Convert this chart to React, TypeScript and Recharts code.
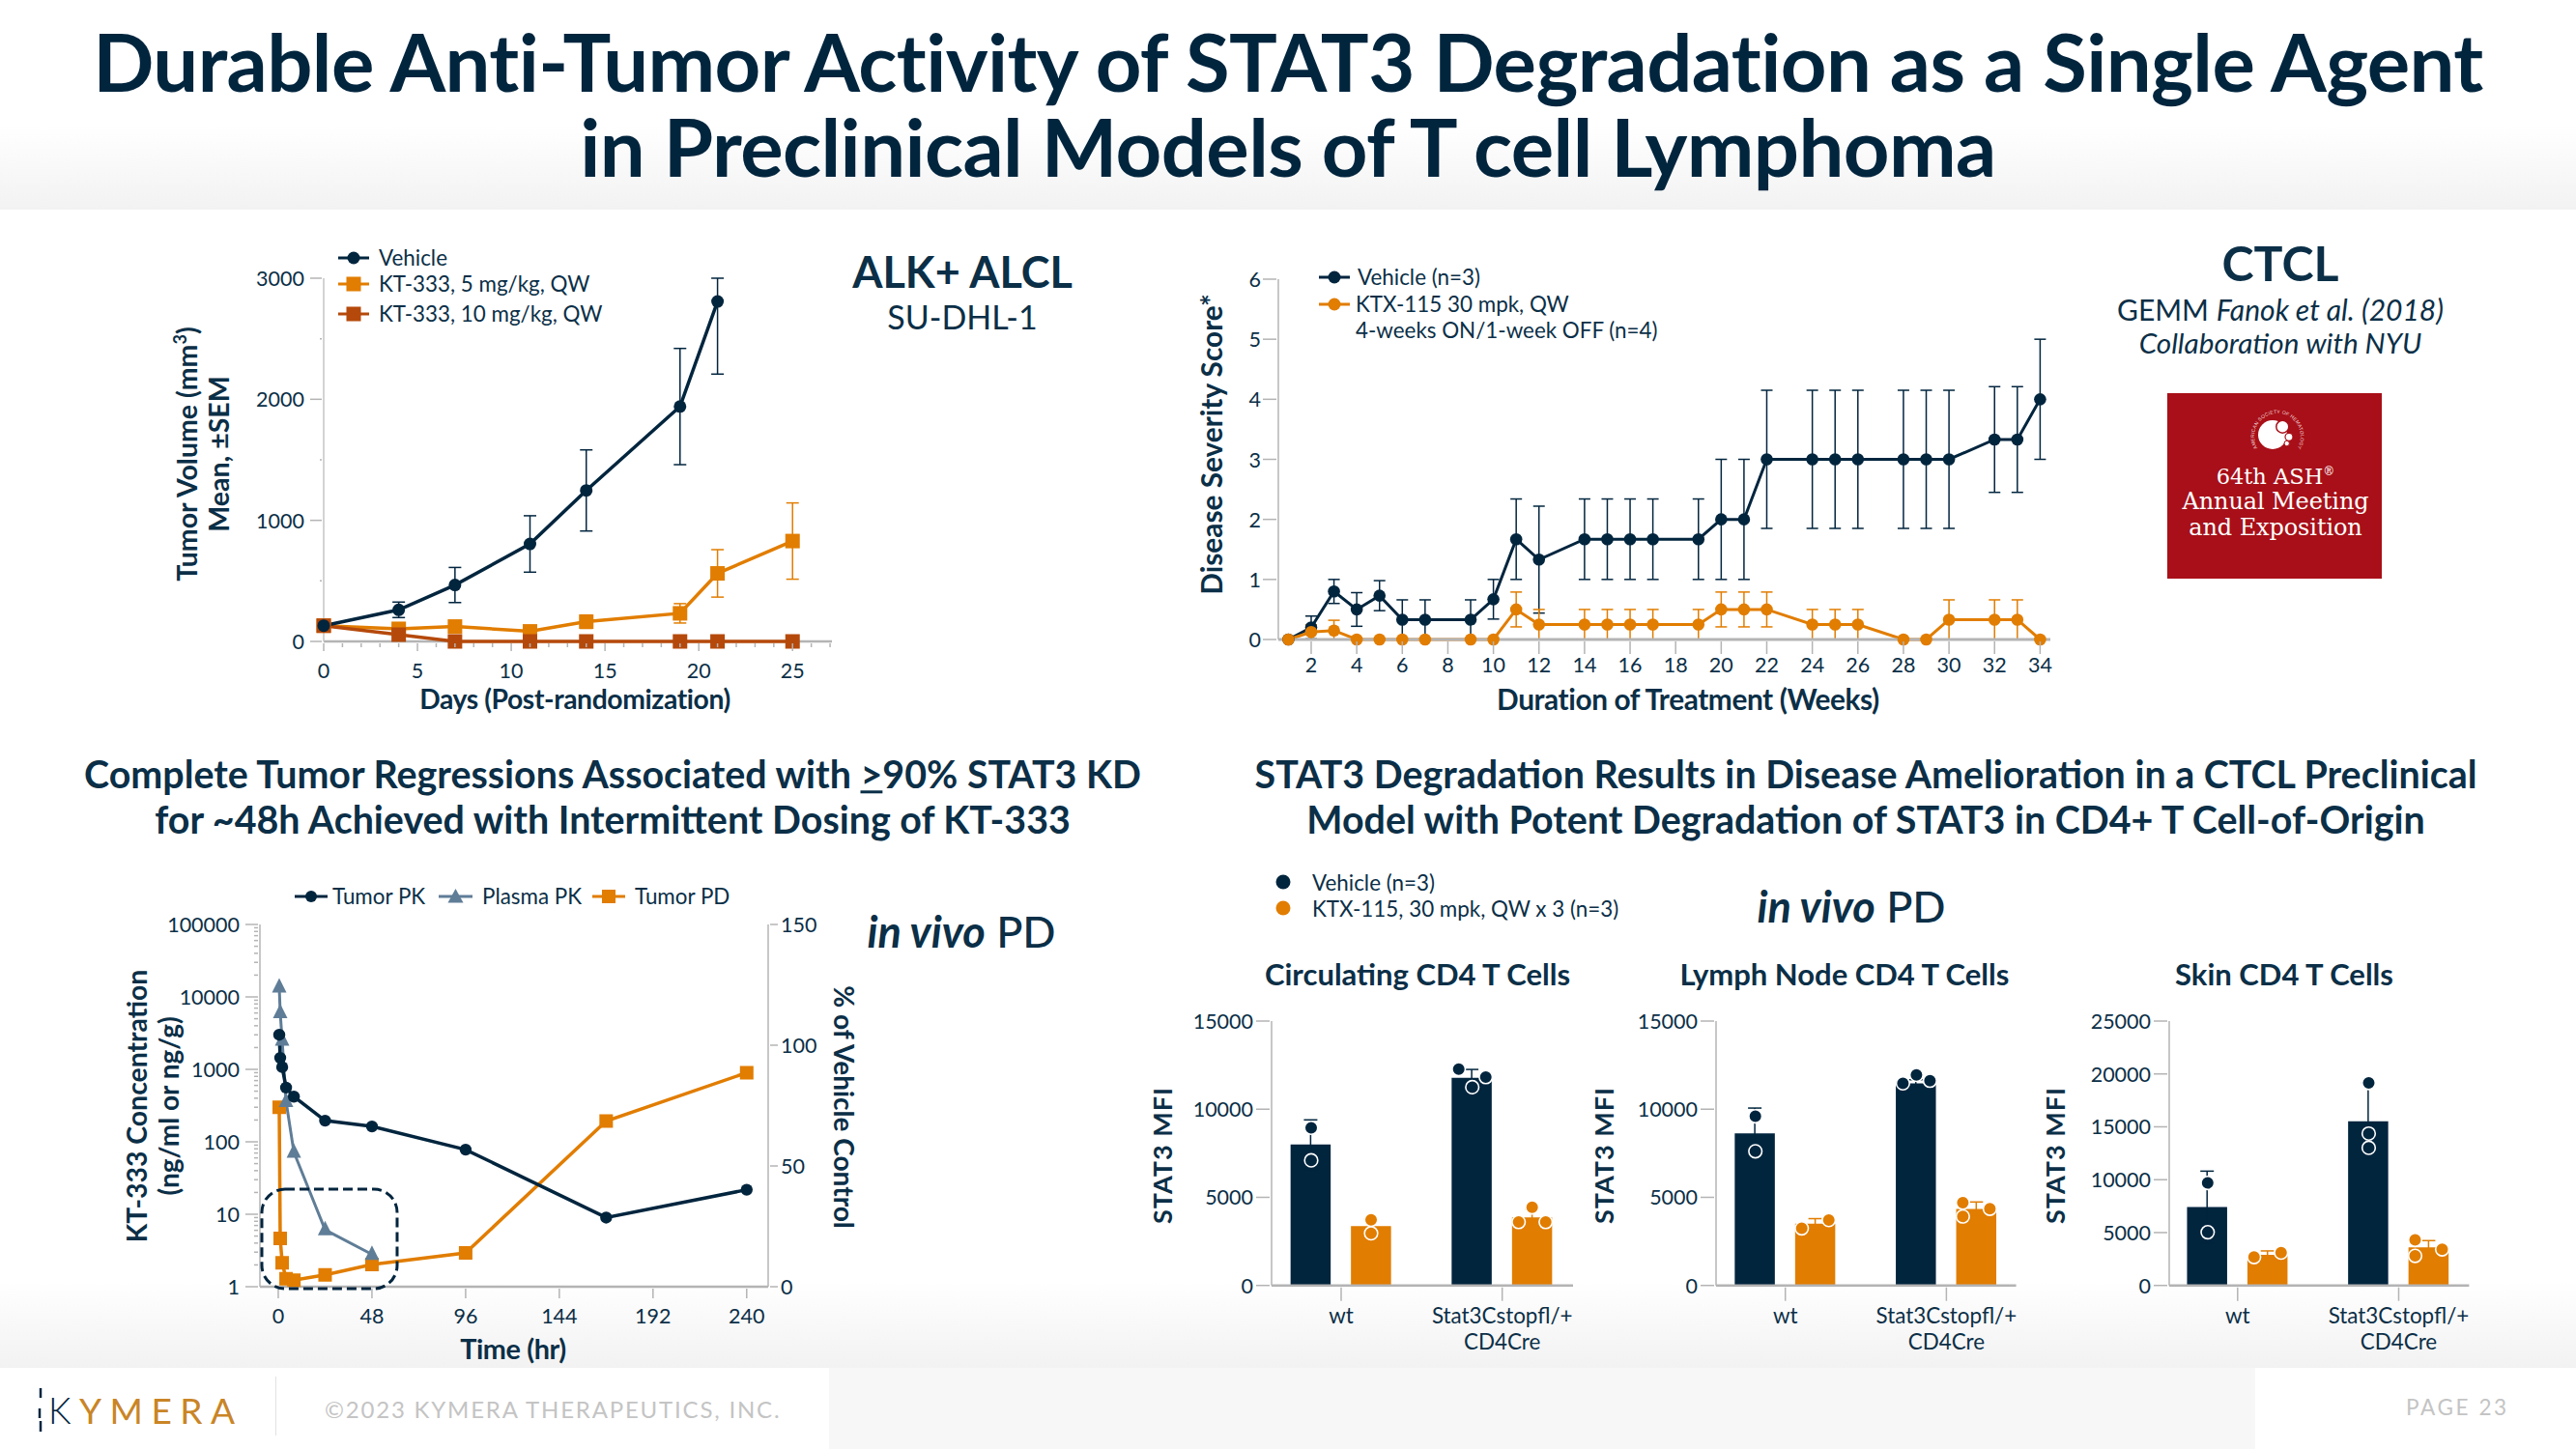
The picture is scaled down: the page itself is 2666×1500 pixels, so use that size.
import React from 'react';
import {
  LineChart,
  Line,
  BarChart,
  Bar,
  ScatterChart,
  Scatter,
  XAxis,
  YAxis,
  ErrorBar,
} from 'recharts';

const NAVY = '#02253e';
const ORANGE = '#e17d00';
const RUST = '#b5490b';
const SLATE = '#5f7d97';
const AXIS = '#b4b4b4';
const TEXT = '#0b2f47';
const FONT = 'Lato, sans-serif';

// ALK+ ALCL tumor volume
const alclDays = [0, 4, 7, 11, 14, 19, 21, 25];
const alclVehicle = [130, 261, 466, 805, 1247, 1940, 2808, null];
const alclVehicleErr = [[0, 0], [64, 64], [145, 145], [233, 233], [335, 335], [480, 480], [600, 192], null];
const alclLow = [130, 104, 123, 83, 163, 232, 562, 829];
const alclLowErr = [[0, 0], [25, 25], [20, 20], [20, 20], [55, 55], [80, 80], [196, 196], [315, 315]];
const alclHigh = [130, 56, 0, 0, 0, 0, 0, 0];
const alclXTicks = [0, 5, 10, 15, 20, 25];
const alclXMinor = [1, 2, 3, 4, 6, 7, 8, 9, 11, 12, 13, 14, 16, 17, 18, 19, 21, 22, 23, 24, 26, 27];
const alclYTicks = [0, 1000, 2000, 3000];
const alclYMinor = [500, 1500, 2500];

// CTCL disease severity score
const ctclWeeks = [1, 2, 3, 4, 5, 6, 7, 9, 10, 11, 12, 14, 15, 16, 17, 19, 20, 21, 22, 24, 25, 26, 28, 29, 30, 32, 33, 34];
const ctclVehicle = [0, 0.2, 0.8, 0.5, 0.73, 0.33, 0.33, 0.33, 0.67, 1.67, 1.33, 1.67, 1.67, 1.67, 1.67, 1.67, 2, 2, 3, 3, 3, 3, 3, 3, 3, 3.33, 3.33, 4];
const ctclVehicleErr = [0, 0.19, 0.2, 0.28, 0.25, 0.33, 0.33, 0.33, 0.33, 0.67, 0.89, 0.67, 0.67, 0.67, 0.67, 0.67, 1, 1, 1.15, 1.15, 1.15, 1.15, 1.15, 1.15, 1.15, 0.88, 0.88, 1];
const ctclKtx = [0, 0.125, 0.15, 0, 0, 0, 0, 0, 0, 0.5, 0.25, 0.25, 0.25, 0.25, 0.25, 0.25, 0.5, 0.5, 0.5, 0.25, 0.25, 0.25, 0, 0, 0.33, 0.33, 0.33, 0];
const ctclKtxErr = [0, 0.12, 0.17, 0, 0, 0, 0, 0, 0, 0.29, 0.25, 0.25, 0.25, 0.25, 0.25, 0.25, 0.29, 0.29, 0.29, 0.25, 0.25, 0.25, 0, 0, 0.33, 0.33, 0.33, 0];
const ctclXTicks = [2, 4, 6, 8, 10, 12, 14, 16, 18, 20, 22, 24, 26, 28, 30, 32, 34];
const ctclYTicks = [0, 1, 2, 3, 4, 5, 6];

// KT-333 PK/PD
const pkHours = [0.5, 1, 2, 4, 8, 24, 48, 96, 168, 240];
const tumorPk = [3000, 1440, 1075, 560, 420, 196, 163, 78, 9, 21.8];
const plasmaPk = [13700, 6040, 2520, 361, 72, 6.1, 2.8, null, null, null];
const tumorPd = [74.3, 20, 9.9, 3.3, 2.7, 4.9, 9.2, 14, 68.6, 88.6];
const pkXTicks = [0, 48, 96, 144, 192, 240];
const pkYTicks = [1, 10, 100, 1000, 10000, 100000];
const pkYMinor = [2, 3, 4, 5, 6, 7, 8, 9, 20, 30, 40, 50, 60, 70, 80, 90, 200, 300, 400, 500, 600, 700, 800, 900, 2000, 3000, 4000, 5000, 6000, 7000, 8000, 9000, 20000, 30000, 40000, 50000, 60000, 70000, 80000, 90000];
const pdYTicks = [0, 50, 100, 150];

// STAT3 MFI panels
const groupLabels = [['wt'], ['Stat3Cstopfl/+', 'CD4Cre']];
const mfiTicks = [0, 5000, 10000, 15000];
const skinTicks = [0, 5000, 10000, 15000, 20000, 25000];

const circVehicle = [7994, 11780];
const circVehicleErr = [1400, 475];
const circKtx = [3366, 3860];
const circKtxErr = [400, 480];
const circVehicleDots = [[8945, 7100], [12270, 11250, 11820]];
const circVehicleSlots = [[0, 0], [-1, 0, 1]];
const circKtxDots = [[3730, 2960], [3600, 4430, 3600]];
const circKtxSlots = [[0, 0], [-1, 0, 1]];

const nodeVehicle = [8634, 11470];
const nodeVehicleErr = [1430, 200];
const nodeKtx = [3510, 4335];
const nodeKtxErr = [280, 400];
const nodeVehicleDots = [[9600, 7610], [11470, 11945, 11615]];
const nodeVehicleSlots = [[0, 0], [-1, 0, 1]];
const nodeKtxDots = [[3240, 3710], [4700, 3915, 4350]];
const nodeKtxSlots = [[-1, 1], [-1, -1, 1]];

const skinVehicle = [7408, 15520];
const skinVehicleErr = [3400, 3630];
const skinKtx = [2896, 3600];
const skinKtxErr = [370, 640];
const skinVehicleDots = [[9695, 5030], [19150, 14360, 13020]];
const skinVehicleSlots = [[0, 0], [0, 0, 0]];
const skinKtxDots = [[2680, 3110], [4300, 2800, 3415]];
const skinKtxSlots = [[-1, 1], [-1, -1, 1]];

const alclRows = alclDays.map((day, i) => ({
  day,
  vehicle: alclVehicle[i],
  vehicleErr: alclVehicleErr[i],
  low: alclLow[i],
  lowErr: alclLowErr[i],
  high: alclHigh[i],
}));

const ctclRows = ctclWeeks.map((week, i) => ({
  week,
  vehicle: ctclVehicle[i],
  vehicleErr: [Math.min(ctclVehicleErr[i], ctclVehicle[i]), ctclVehicleErr[i]],
  ktx: ctclKtx[i],
  ktxErr: [Math.min(ctclKtxErr[i], ctclKtx[i]), ctclKtxErr[i]],
}));

const pkRows = pkHours.map((hour, i) => ({
  hour,
  tumorPk: tumorPk[i],
  plasmaPk: plasmaPk[i],
  tumorPd: tumorPd[i],
}));

function Txt({ x, y, size = 22.4, weight = 400, rotate = 0, anchor = 'center', color = TEXT, spacing = 0, italic = false, family = FONT, children }: any) {
  const tx = anchor === 'center' ? '-50%' : anchor === 'end' ? '-100%' : '0';
  return (
    <div
      style={{
        position: 'absolute',
        left: x,
        top: y,
        transform: `translate(${tx}, -50%) rotate(${rotate}deg)`,
        fontFamily: family,
        fontSize: size,
        fontWeight: weight,
        fontStyle: italic ? 'italic' : 'normal',
        letterSpacing: spacing,
        color,
        whiteSpace: 'nowrap',
        lineHeight: 1,
      }}
    >
      {children}
    </div>
  );
}

function squareDot(color: string, side: number) {
  return (p: any) =>
    p.cy == null ? <g key={p.key} /> : (
      <rect key={p.key} x={p.cx - side / 2} y={p.cy - side / 2} width={side} height={side} fill={color} />
    );
}

function triangleDot(color: string, side: number) {
  return (p: any) =>
    p.cy == null ? <g key={p.key} /> : (
      <path key={p.key} d={`M${p.cx} ${p.cy - side * 0.62}L${p.cx + side / 2} ${p.cy + side * 0.38}L${p.cx - side / 2} ${p.cy + side * 0.38}Z`} fill={color} />
    );
}

function LegendMark({ x, y, width, color, shape, size, strokeWidth = 3 }: any) {
  const mid = width / 2;
  return (
    <svg style={{ position: 'absolute', left: x, top: y - 12 }} width={width} height={24}>
      <line x1={0} x2={width} y1={12} y2={12} stroke={color} strokeWidth={strokeWidth} />
      {shape === 'circle' && <circle cx={mid} cy={12} r={size} fill={color} />}
      {shape === 'square' && <rect x={mid - size} y={12 - size} width={size * 2} height={size * 2} fill={color} />}
      {shape === 'triangle' && <path d={`M${mid} ${12 - size}L${mid + size} ${12 + size * 0.8}L${mid - size} ${12 + size * 0.8}Z`} fill={color} />}
    </svg>
  );
}

// axis tick drawn by hand so that majors and minors can differ; tickSize is 0 on the axes
function xTick(majors: number[], len: number, minorLen: number, labelDy: number) {
  return ({ x, y, payload }: any) => {
    const major = majors.includes(payload.value);
    return (
      <g>
        <line x1={x} x2={x} y1={y} y2={y + (major ? len : minorLen)} stroke={AXIS} strokeWidth={1.5} />
        {major && (
          <text x={x} y={y + labelDy} textAnchor="middle" dominantBaseline="central" fill={TEXT} fontSize={21.5} fontFamily={FONT}>
            {payload.value}
          </text>
        )}
      </g>
    );
  };
}

function yTick(majors: number[], len: number, minorLen: number, gap: number, side: 'left' | 'right' = 'left') {
  const dir = side === 'left' ? -1 : 1;
  return ({ x, y, payload }: any) => {
    const major = majors.includes(payload.value);
    return (
      <g>
        <line x1={x} x2={x + dir * (major ? len : minorLen)} y1={y} y2={y} stroke={AXIS} strokeWidth={1.5} />
        {major && (
          <text x={x + dir * (len + gap)} y={y} textAnchor={side === 'left' ? 'end' : 'start'} dominantBaseline="central" fill={TEXT} fontSize={21.5} fontFamily={FONT}>
            {payload.value}
          </text>
        )}
      </g>
    );
  };
}

const PAD = 120;

function AlclChart() {
  return (
    <div style={{ position: 'absolute', left: 335 - PAD, top: 288 - 20 }}>
      <LineChart width={526 + PAD + 20} height={376 + 20 + 60} data={alclRows} margin={{ top: 20, right: 20, left: 0, bottom: 0 }}>
        <XAxis
          dataKey="day"
          type="number"
          domain={[0, 27.1]}
          ticks={[...alclXTicks, ...alclXMinor].sort((a, b) => a - b)}
          interval={0}
          height={60}
          tickSize={0}
          tickLine={false}
          axisLine={{ stroke: AXIS, strokeWidth: 2.5 }}
          tick={xTick(alclXTicks, 8, 4, 28)}
          zIndex={100}
        />
        <YAxis
          type="number"
          width={PAD}
          domain={[0, 3000]}
          ticks={[...alclYTicks, ...alclYMinor].sort((a, b) => a - b)}
          interval={0}
          tickSize={0}
          tickLine={false}
          axisLine={{ stroke: '#c4c4c4', strokeWidth: 1.5 }}
          tick={yTick(alclYTicks, 12, 2, 6)}
        />
        <Line dataKey="low" stroke={ORANGE} strokeWidth={3.5} dot={squareDot(ORANGE, 15)} isAnimationActive={false}>
          <ErrorBar dataKey="lowErr" width={6.5} stroke={ORANGE} strokeWidth={1.5} />
        </Line>
        <Line dataKey="high" stroke={RUST} strokeWidth={3.5} dot={squareDot(RUST, 15)} isAnimationActive={false} />
        <Line dataKey="vehicle" stroke={NAVY} strokeWidth={3.5} dot={{ r: 6.5, fill: NAVY, stroke: NAVY, strokeWidth: 0 }} connectNulls={false} isAnimationActive={false}>
          <ErrorBar dataKey="vehicleErr" width={6.5} stroke={NAVY} strokeWidth={1.5} />
        </Line>
      </LineChart>
    </div>
  );
}

function CtclChart() {
  return (
    <div style={{ position: 'absolute', left: 1323 - PAD, top: 288.7 - 20 }}>
      <LineChart width={799 + PAD + 20} height={373 + 20 + 60} data={ctclRows} margin={{ top: 20, right: 20, left: 0, bottom: 0 }}>
        <XAxis
          dataKey="week"
          type="number"
          domain={[0.558, 34.45]}
          ticks={ctclXTicks}
          interval={0}
          height={60}
          tickSize={0}
          tickLine={false}
          axisLine={{ stroke: AXIS, strokeWidth: 3 }}
          tick={xTick(ctclXTicks, 13, 13, 24)}
        />
        <YAxis
          type="number"
          width={PAD}
          domain={[0, 6]}
          ticks={ctclYTicks}
          interval={0}
          tickSize={0}
          tickLine={false}
          axisLine={{ stroke: AXIS, strokeWidth: 1.5 }}
          tick={yTick(ctclYTicks, 14, 14, 2)}
        />
        <Line dataKey="vehicle" stroke={NAVY} strokeWidth={3} dot={{ r: 6.3, fill: NAVY, stroke: NAVY, strokeWidth: 0 }} isAnimationActive={false}>
          <ErrorBar dataKey="vehicleErr" width={6} stroke={NAVY} strokeWidth={1.5} />
        </Line>
        <Line dataKey="ktx" stroke={ORANGE} strokeWidth={3} dot={{ r: 6.3, fill: ORANGE, stroke: ORANGE, strokeWidth: 0 }} isAnimationActive={false}>
          <ErrorBar dataKey="ktxErr" width={6} stroke={ORANGE} strokeWidth={1.5} />
        </Line>
      </LineChart>
    </div>
  );
}

function PkChart() {
  return (
    <div style={{ position: 'absolute', left: 269 - PAD, top: 957 - 20 }}>
      <LineChart width={526 + PAD + 60} height={375 + 20 + 60} data={pkRows} margin={{ top: 20, right: 0, left: 0, bottom: 0 }}>
        <XAxis
          dataKey="hour"
          type="number"
          domain={[-9.4, 251]}
          ticks={pkXTicks}
          interval={0}
          height={60}
          tickSize={0}
          tickLine={false}
          axisLine={{ stroke: AXIS, strokeWidth: 2.5 }}
          tick={xTick(pkXTicks, 10, 10, 28)}
        />
        <YAxis
          yAxisId="pk"
          type="number"
          scale="log"
          width={PAD}
          domain={[1, 100000]}
          ticks={[...pkYTicks, ...pkYMinor].sort((a, b) => a - b)}
          interval={0}
          tickSize={0}
          tickLine={false}
          axisLine={{ stroke: AXIS, strokeWidth: 1.5 }}
          tick={yTick(pkYTicks, 13, 4, 6)}
        />
        <YAxis
          yAxisId="pd"
          orientation="right"
          type="number"
          width={60}
          domain={[0, 150]}
          ticks={pdYTicks}
          interval={0}
          tickSize={0}
          tickLine={false}
          axisLine={{ stroke: AXIS, strokeWidth: 1.5 }}
          tick={yTick(pdYTicks, 8, 8, 3, 'right')}
        />
        <Line yAxisId="pd" dataKey="tumorPd" stroke={ORANGE} strokeWidth={3.5} dot={squareDot(ORANGE, 14)} isAnimationActive={false} />
        <Line yAxisId="pk" dataKey="plasmaPk" stroke={SLATE} strokeWidth={3} dot={triangleDot(SLATE, 15)} isAnimationActive={false} />
        <Line yAxisId="pk" dataKey="tumorPk" stroke={NAVY} strokeWidth={3.5} dot={{ r: 6.2, fill: NAVY, stroke: NAVY, strokeWidth: 0 }} isAnimationActive={false} />
      </LineChart>
    </div>
  );
}

function groupTick({ x, y, payload }: any) {
  const lines = groupLabels[payload.value] ?? [];
  return (
    <g>
      <line x1={x} x2={x} y1={y} y2={y + 14} stroke={AXIS} strokeWidth={1.5} />
      {lines.map((line, i) => (
        <text key={line} x={x} y={y + 29 + i * 27} textAnchor="middle" dominantBaseline="central" fill={TEXT} fontSize={22.4} fontFamily={FONT}>
          {line}
        </text>
      ))}
    </g>
  );
}

const GROUP_PX = 166.7;
const BAR_SHIFT = 31 / GROUP_PX;
const SLOT_WIDTH = 14 / GROUP_PX;
const MFI_BOTTOM = 90;

function dotsFor(values: number[][], slots: number[][], shift: number) {
  return values.flatMap((vals, g) =>
    vals.map((y, i) => ({ x: g + shift + slots[g][i] * SLOT_WIDTH, y }))
  );
}

function ringDot(color: string) {
  return (p: any) => <circle cx={p.cx} cy={p.cy} r={6.8} fill={color} stroke="#fff" strokeWidth={1.6} />;
}

function MfiPanel({ left, right, zeroGroup, ticks, top, vehicle, vehicleErr, ktx, ktxErr, vehicleDots, vehicleSlots, ktxDots, ktxSlots }: any) {
  const rows = groupLabels.map((_, i) => ({
    x: i,
    vehicle: vehicle[i],
    vehicleErr: vehicleErr[i],
    ktx: ktx[i],
    ktxErr: ktxErr[i],
  }));
  const domain = [(left - zeroGroup) / GROUP_PX, (right - zeroGroup) / GROUP_PX];
  const width = right - left + PAD + 40;
  const height = 273.7 + 20 + MFI_BOTTOM;
  return (
    <div style={{ position: 'absolute', left: left - PAD, top: 1057 - 20, width, height }}>
      <BarChart width={width} height={height} data={rows} margin={{ top: 20, right: 40, left: 0, bottom: 0 }} barSize={41.5} barGap={21}>
        <XAxis
          dataKey="x"
          type="number"
          domain={domain}
          ticks={[0, 1]}
          interval={0}
          height={MFI_BOTTOM}
          tickSize={0}
          tickLine={false}
          axisLine={{ stroke: AXIS, strokeWidth: 2.5 }}
          tick={groupTick}
        />
        <YAxis
          type="number"
          width={PAD}
          domain={[0, top]}
          ticks={ticks}
          interval={0}
          tickSize={0}
          tickLine={false}
          axisLine={{ stroke: AXIS, strokeWidth: 1.5 }}
          tick={yTick(ticks, 14, 14, 3)}
        />
        <Bar dataKey="vehicle" fill={NAVY} isAnimationActive={false}>
          <ErrorBar dataKey="vehicleErr" width={7} stroke={NAVY} strokeWidth={1.5} />
        </Bar>
        <Bar dataKey="ktx" fill={ORANGE} isAnimationActive={false}>
          <ErrorBar dataKey="ktxErr" width={7} stroke={ORANGE} strokeWidth={1.5} />
        </Bar>
      </BarChart>
      {/* individual animals, same plot box as the bars underneath */}
      <div style={{ position: 'absolute', left: 0, top: 0 }}>
        <ScatterChart width={width} height={height} margin={{ top: 20, right: 40, left: PAD, bottom: MFI_BOTTOM }}>
          <XAxis dataKey="x" type="number" domain={domain} hide />
          <YAxis dataKey="y" type="number" domain={[0, top]} hide />
          <Scatter data={dotsFor(vehicleDots, vehicleSlots, -BAR_SHIFT)} shape={ringDot(NAVY)} isAnimationActive={false} />
          <Scatter data={dotsFor(ktxDots, ktxSlots, BAR_SHIFT)} shape={ringDot(ORANGE)} isAnimationActive={false} />
        </ScatterChart>
      </div>
    </div>
  );
}

function AshBox() {
  return (
    <div style={{ position: 'absolute', left: 2243, top: 407, width: 222, height: 192, background: '#a80f18' }}>
      <svg width={222} height={80} style={{ position: 'absolute', left: 0, top: 0 }}>
        <defs>
          <path id="ash-ring" d="M93.2 57 A24 24 0 1 1 134.8 57" fill="none" />
        </defs>
        <text fill="#f3d9da" fontSize={5} fontFamily="Liberation Sans" letterSpacing={0.2}>
          <textPath href="#ash-ring">AMERICAN SOCIETY OF HEMATOLOGY</textPath>
        </text>
        <circle cx={109} cy={43} r={15} fill="#fff" />
        <circle cx={119.3} cy={34.7} r={6.5} fill="#fff" stroke="#a80f18" strokeWidth={1.5} />
        <circle cx={126} cy={45.3} r={4} fill="#fff" stroke="#a80f18" strokeWidth={1.2} />
        <circle cx={123.7} cy={52} r={2.7} fill="#fff" stroke="#a80f18" strokeWidth={1} />
      </svg>
      <Txt x={112} y={86} size={22.5} color="#fff" family="'DejaVu Serif'">64th ASH<sup style={{ fontSize: 12, lineHeight: 0 }}>®</sup></Txt>
      <Txt x={112} y={112} size={24} color="#fff" family="'DejaVu Serif'" spacing={-0.1}>Annual Meeting</Txt>
      <Txt x={112} y={139} size={24} color="#fff" family="'DejaVu Serif'" spacing={-0.1}>and Exposition</Txt>
    </div>
  );
}

export default function App() {
  return (
    <div style={{ position: 'absolute', left: 0, top: 0, width: 2666, height: 1500, background: '#fff', overflow: 'hidden', fontFamily: FONT }}>
      {/* slide bands */}
      <div style={{ position: 'absolute', left: 0, top: 0, width: 2666, height: 217, background: 'linear-gradient(#fff 60%, #f2f2f2)' }} />
      <div style={{ position: 'absolute', left: 0, top: 1326, width: 2666, height: 90, background: 'linear-gradient(#fff, #f2f2f2)' }} />
      <div style={{ position: 'absolute', left: 0, top: 1416, width: 2666, height: 84, background: '#fff' }} />
      <div style={{ position: 'absolute', left: 858, top: 1416, width: 1476, height: 84, background: '#f7f7f7' }} />

      <Txt x={1333} y={64} size={83.2} weight={700} color="#02253e" spacing={-0.6}>Durable Anti-Tumor Activity of STAT3 Degradation as a Single Agent</Txt>
      <Txt x={1333} y={152} size={83.2} weight={700} color="#02253e" spacing={-0.6}>in Preclinical Models of T cell Lymphoma</Txt>

      {/* ALK+ ALCL */}
      <Txt x={996} y={281} size={45} weight={700}>ALK+ ALCL</Txt>
      <Txt x={996} y={328} size={34} weight={400}>SU-DHL-1</Txt>
      <AlclChart />
      <LegendMark x={350} y={267} width={32} color={NAVY} shape="circle" size={6.5} />
      <Txt x={392} y={267} anchor="start">Vehicle</Txt>
      <LegendMark x={350} y={294} width={32} color={ORANGE} shape="square" size={7.5} />
      <Txt x={392} y={294} anchor="start">KT-333, 5 mg/kg, QW</Txt>
      <LegendMark x={350} y={325} width={32} color={RUST} shape="square" size={7.5} />
      <Txt x={392} y={325} anchor="start">KT-333, 10 mg/kg, QW</Txt>
      <Txt x={193} y={470} size={28.5} weight={700} rotate={-90}>Tumor Volume (mm<sup style={{ fontSize: 18, lineHeight: 0 }}>3</sup>)</Txt>
      <Txt x={226} y={470} size={28.5} weight={700} rotate={-90}>Mean, ±SEM</Txt>
      <Txt x={595} y={723} size={28.3} weight={700} spacing={-0.4}>Days (Post-randomization)</Txt>

      {/* CTCL */}
      <Txt x={2360} y={272} size={50} weight={700}>CTCL</Txt>
      <Txt x={2360} y={320} size={30}>GEMM <i>Fanok et al. (2018)</i></Txt>
      <Txt x={2360} y={355} size={29.7} italic>Collaboration with NYU</Txt>
      <AshBox />
      <CtclChart />
      <LegendMark x={1365} y={287} width={32} color={NAVY} shape="circle" size={6.5} />
      <Txt x={1405} y={287} anchor="start">Vehicle (n=3)</Txt>
      <LegendMark x={1365} y={315} width={32} color={ORANGE} shape="circle" size={6.5} />
      <Txt x={1403} y={315} anchor="start">KTX-115 30 mpk, QW</Txt>
      <Txt x={1403} y={342} anchor="start">4-weeks ON/1-week OFF (n=4)</Txt>
      <Txt x={1254} y={460} size={29.8} weight={700} rotate={-90}>Disease Severity Score*</Txt>
      <Txt x={1747} y={724} size={29.8} weight={700} spacing={-0.4}>Duration of Treatment (Weeks)</Txt>

      {/* section headings */}
      <Txt x={634} y={801} size={39.4} weight={700}>Complete Tumor Regressions Associated with <u>&gt;</u>90% STAT3 KD</Txt>
      <Txt x={634} y={848} size={39.4} weight={700}>for ~48h Achieved with Intermittent Dosing of KT-333</Txt>
      <Txt x={1931} y={801} size={39.4} weight={700}>STAT3 Degradation Results in Disease Amelioration in a CTCL Preclinical</Txt>
      <Txt x={1931} y={848} size={39.4} weight={700}>Model with Potent Degradation of STAT3 in CD4+ T Cell-of-Origin</Txt>

      {/* PK/PD */}
      <PkChart />
      <svg style={{ position: 'absolute', left: 265, top: 1225 }} width={155} height={115}>
        <rect x={6} y={6} width={140} height={103} rx={24} fill="none" stroke={NAVY} strokeWidth={3} strokeDasharray="10 5" />
      </svg>
      <LegendMark x={305} y={928} width={34} color={NAVY} shape="circle" size={6} />
      <Txt x={344} y={928} anchor="start">Tumor PK</Txt>
      <LegendMark x={454} y={928} width={35} color={SLATE} shape="triangle" size={8} />
      <Txt x={499} y={928} anchor="start">Plasma PK</Txt>
      <LegendMark x={613} y={928} width={34} color={ORANGE} shape="square" size={7} />
      <Txt x={657} y={928} anchor="start">Tumor PD</Txt>
      <Txt x={141} y={1145} size={28.4} weight={700} rotate={-90}>KT-333 Concentration</Txt>
      <Txt x={174} y={1145} size={28} weight={700} rotate={-90}>(ng/ml or ng/g)</Txt>
      <Txt x={874} y={1146} size={28} weight={700} rotate={90}>% of Vehicle Control</Txt>
      <Txt x={531} y={1396} size={28.8} weight={700} spacing={-0.4}>Time (hr)</Txt>
      <Txt x={995} y={964} size={45} weight={500}><b><i>in vivo</i></b> PD</Txt>

      {/* STAT3 MFI */}
      <Txt x={1916} y={938} size={45} weight={500}><b><i>in vivo</i></b> PD</Txt>
      <svg style={{ position: 'absolute', left: 1318, top: 903 }} width={20} height={50}>
        <circle cx={10} cy={10} r={7.5} fill={NAVY} />
        <circle cx={10} cy={37} r={7.5} fill={ORANGE} />
      </svg>
      <Txt x={1358} y={914} anchor="start">Vehicle (n=3)</Txt>
      <Txt x={1358} y={941} anchor="start">KTX-115, 30 mpk, QW x 3 (n=3)</Txt>

      <Txt x={1467} y={1008} size={31} weight={700}>Circulating CD4 T Cells</Txt>
      <Txt x={1909} y={1008} size={31} weight={700}>Lymph Node CD4 T Cells</Txt>
      <Txt x={2364} y={1008} size={31} weight={700}>Skin CD4 T Cells</Txt>
      <Txt x={1201.5} y={1196} size={27} weight={700} rotate={-90} spacing={1}>STAT3 MFI</Txt>
      <Txt x={1658.6} y={1196} size={27} weight={700} rotate={-90} spacing={1}>STAT3 MFI</Txt>
      <Txt x={2126} y={1196} size={27} weight={700} rotate={-90} spacing={1}>STAT3 MFI</Txt>

      <MfiPanel left={1316} right={1628} zeroGroup={1388} ticks={mfiTicks} top={15000}
        vehicle={circVehicle} vehicleErr={circVehicleErr} ktx={circKtx} ktxErr={circKtxErr}
        vehicleDots={circVehicleDots} vehicleSlots={circVehicleSlots} ktxDots={circKtxDots} ktxSlots={circKtxSlots} />
      <MfiPanel left={1776} right={2086.6} zeroGroup={1847.7} ticks={mfiTicks} top={15000}
        vehicle={nodeVehicle} vehicleErr={nodeVehicleErr} ktx={nodeKtx} ktxErr={nodeKtxErr}
        vehicleDots={nodeVehicleDots} vehicleSlots={nodeVehicleSlots} ktxDots={nodeKtxDots} ktxSlots={nodeKtxSlots} />
      <MfiPanel left={2244.6} right={2555} zeroGroup={2315.4} ticks={skinTicks} top={25000}
        vehicle={skinVehicle} vehicleErr={skinVehicleErr} ktx={skinKtx} ktxErr={skinKtxErr}
        vehicleDots={skinVehicleDots} vehicleSlots={skinVehicleSlots} ktxDots={skinKtxDots} ktxSlots={skinKtxSlots} />

      {/* footer */}
      <svg style={{ position: 'absolute', left: 38, top: 1432 }} width={10} height={54}>
        <line x1={4} x2={4} y1={5} y2={15} stroke={NAVY} strokeWidth={2.5} />
        <line x1={3} x2={3} y1={26} y2={36} stroke={NAVY} strokeWidth={2.5} />
        <line x1={4} x2={4} y1={39} y2={50} stroke={NAVY} strokeWidth={2.5} />
      </svg>
      <Txt x={50} y={1459} size={37} weight={400} anchor="start" color="#c98526" spacing={8.5}>
        <span style={{ color: NAVY, fontWeight: 300 }}>K</span>YMERA
      </Txt>
      <div style={{ position: 'absolute', left: 285, top: 1425, width: 1, height: 61, background: '#e2e2e2' }} />
      <Txt x={336} y={1459} size={24} anchor="start" color="#c4c4c4" spacing={1.8}>©2023 KYMERA THERAPEUTICS, INC.</Txt>
      <Txt x={2490} y={1457} size={22.5} anchor="start" color="#c4c4c4" spacing={2.6}>PAGE 23</Txt>
    </div>
  );
}
